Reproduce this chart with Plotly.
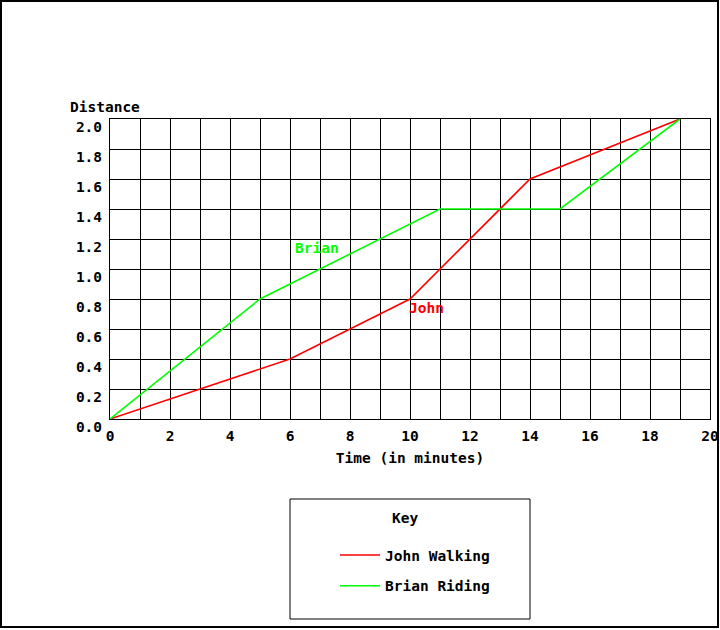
import plotly.graph_objects as go

# data
john_time = [0, 6, 10, 14, 19]
john_dist = [0.0, 0.4, 0.8, 1.6, 2.0]
brian_time = [0, 5, 11, 15, 19]
brian_dist = [0.0, 0.8, 1.4, 1.4, 2.0]

x_ticks = list(range(0, 21, 2))
y_ticks = [0.0, 0.2, 0.4, 0.6, 0.8, 1.0, 1.2, 1.4, 1.6, 1.8, 2.0]
y_tick_text = [f"{v:.1f}" for v in y_ticks]

RED = "#ff0000"
GREEN = "#00ff00"
FONT = "DejaVu Sans Mono"
txt = dict(family=FONT, size=14.5, color="black", weight="bold")

fig = go.Figure()
fig.add_trace(go.Scatter(x=john_time, y=john_dist, mode="lines", name="John Walking",
                         legendgroup="john",
                         line=dict(color=RED, width=1.6)))
fig.add_trace(go.Scatter(x=brian_time, y=brian_dist, mode="lines", name="Brian Riding",
                         legendgroup="brian",
                         line=dict(color=GREEN, width=1.6)))

# in-plot labels
fig.add_annotation(x=6.1, y=1.14, text="Brian", showarrow=False, xanchor="left",
                   font=dict(txt, color=GREEN))
fig.add_annotation(x=9.9, y=0.74, text="John", showarrow=False, xanchor="left",
                   font=dict(txt, color=RED))
# y axis title, horizontal above the axis
fig.add_annotation(xref="paper", yref="paper", x=-42 / 600, y=1.04, text="Distance",
                   showarrow=False, xanchor="left", yanchor="middle", font=txt)
# key heading
fig.add_annotation(xref="paper", yref="paper", x=295 / 600, y=-99 / 300, text="Key",
                   showarrow=False, xanchor="center", yanchor="middle", font=txt)

# outer frame and key box
fig.add_shape(type="rect", xref="paper", yref="paper",
              x0=-109 / 600, x1=608 / 600, y0=-208 / 300, y1=418 / 300,
              line=dict(color="black", width=2))
fig.add_shape(type="rect", xref="paper", yref="paper",
              x0=180 / 600, x1=420 / 600, y0=-200 / 300, y1=-80 / 300,
              line=dict(color="black", width=1))

fig.update_layout(
    width=720, height=630,
    margin=dict(l=110, r=10, t=119, b=211),
    paper_bgcolor="white", plot_bgcolor="white",
    font=txt,
    showlegend=True,
    legend=dict(
        x=225 / 600, y=-120 / 300, xanchor="left", yanchor="top",
        bgcolor="rgba(0,0,0,0)", borderwidth=0,
        traceorder="grouped", tracegroupgap=9, itemwidth=40,
        font=txt,
    ),
    xaxis=dict(
        range=[0, 20], tickvals=x_ticks, showgrid=True, gridcolor="black", gridwidth=1,
        minor=dict(dtick=1, showgrid=True, gridcolor="black", gridwidth=1),
        showline=True, linecolor="black", linewidth=1, mirror=True,
        zeroline=False, ticks="", ticklabelstandoff=4, tickfont=txt, automargin=False,
        title=dict(text="Time (in minutes)", standoff=9, font=txt),
    ),
    yaxis=dict(
        range=[0, 2], tickvals=y_ticks, ticktext=y_tick_text,
        showgrid=True, gridcolor="black", gridwidth=1,
        showline=True, linecolor="black", linewidth=1, mirror=True,
        zeroline=False, ticks="", ticklabelstandoff=4, ticklabelshift=8,
        tickfont=txt, automargin=False,
    ),
)

fig.write_html("out.html", config={"displayModeBar": False},
               post_script="document.body.style.margin='0';")
